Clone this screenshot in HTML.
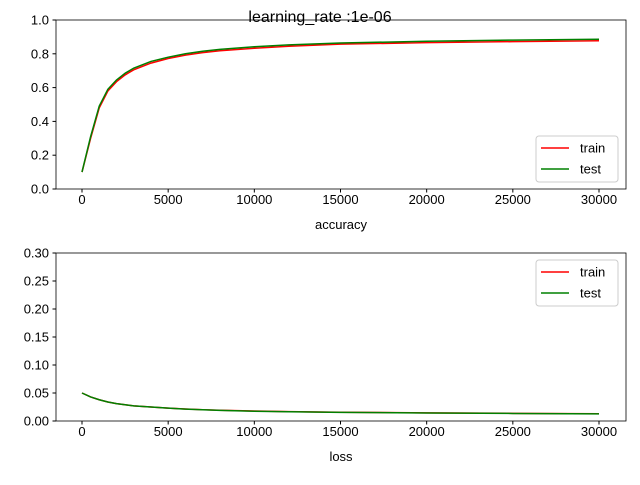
<!DOCTYPE html>
<html><head><meta charset="utf-8"><style>
body{margin:0;background:#fff}
svg text{font-family:"Liberation Sans","DejaVu Sans",sans-serif;font-size:13px;fill:#000}
</style></head><body>
<svg id="c" width="640" height="480"></svg>
<script>
const xs=[0,500,1000,1500,2000,2500,3000,4000,5000,6000,7000,8000,10000,12000,15000,20000,25000,30000];
const accTrain=[0.1,0.3,0.48,0.58,0.635,0.675,0.705,0.745,0.772,0.792,0.807,0.818,0.833,0.845,0.857,0.866,0.872,0.877];
const accTest=[0.1,0.31,0.49,0.59,0.645,0.685,0.715,0.755,0.78,0.8,0.815,0.826,0.842,0.853,0.864,0.874,0.881,0.886];
const lossTrain=[0.05,0.043,0.038,0.034,0.031,0.029,0.027,0.025,0.023,0.0215,0.0202,0.0192,0.0178,0.0168,0.0157,0.0145,0.0137,0.013];
const lossTest=[0.05,0.043,0.038,0.034,0.031,0.029,0.027,0.025,0.023,0.0213,0.02,0.019,0.0175,0.0165,0.0155,0.0143,0.0135,0.0128];
const xTicks=[0,5000,10000,15000,20000,25000,30000];
const accTicks=[0,0.2,0.4,0.6,0.8,1.0];
const lossTicks=[0,0.05,0.1,0.15,0.2,0.25,0.3];
const NS="http://www.w3.org/2000/svg",svg=document.getElementById('c');
function el(t,a,p){const e=document.createElementNS(NS,t);for(const k in a)e.setAttribute(k,a[k]);(p||svg).appendChild(e);return e;}
const X=v=>82+v*(599-82)/30000;
function panel(name,top,bot,ymax,yt,dec,a,b,xlabel,legY){
  const g=el('g',{});
  const Y=v=>bot-v*(bot-top)/ymax;
  const mk=(arr,col,n)=>{const p=el('polyline',{points:xs.map((x,i)=>X(x)+','+Y(arr[i])).join(' '),fill:'none',stroke:col,'stroke-width':1.5},g);};
  mk(a,'#ff0000','train');mk(b,'#008000','test');
  el('rect',{x:56,y:top,width:570,height:bot-top,fill:'none',stroke:'#000','stroke-width':0.8},g);
  xTicks.forEach(t=>{el('line',{x1:X(t),x2:X(t),y1:bot,y2:bot+3.5,stroke:'#000'},g);const tx=el('text',{x:X(t),y:bot+15,'text-anchor':'middle'},g);tx.textContent=t;});
  yt.forEach(t=>{el('line',{x1:52.5,x2:56,y1:Y(t),y2:Y(t),stroke:'#000'},g);const tx=el('text',{x:49,y:Y(t)+4.5,'text-anchor':'end'},g);tx.textContent=t.toFixed(dec);});
  const xl=el('text',{x:341,y:bot+40,'text-anchor':'middle'},g);xl.textContent=xlabel;
  const lg=el('g',{},g);
  el('rect',{x:536,y:legY,width:82,height:46,rx:3,fill:'#fff',stroke:'#ccc'},lg);
  [['train','#ff0000'],['test','#008000']].forEach(([n,c],i)=>{const yy=legY+12+i*21;el('line',{x1:541,x2:569,y1:yy,y2:yy,stroke:c,'stroke-width':1.5},lg);const t=el('text',{x:580,y:yy+4.5},lg);t.textContent=n;});
}
panel('accuracy',20,189,1,accTicks,1,accTrain,accTest,'accuracy',136);
panel('loss',253,421,0.3,lossTicks,2,lossTrain,lossTest,'loss',260);
const ti=el('text',{x:320,y:22,'text-anchor':'middle','font-size':'16px',style:'font-size:16px'});ti.textContent='learning_rate :1e-06';


</script>
</body></html>
